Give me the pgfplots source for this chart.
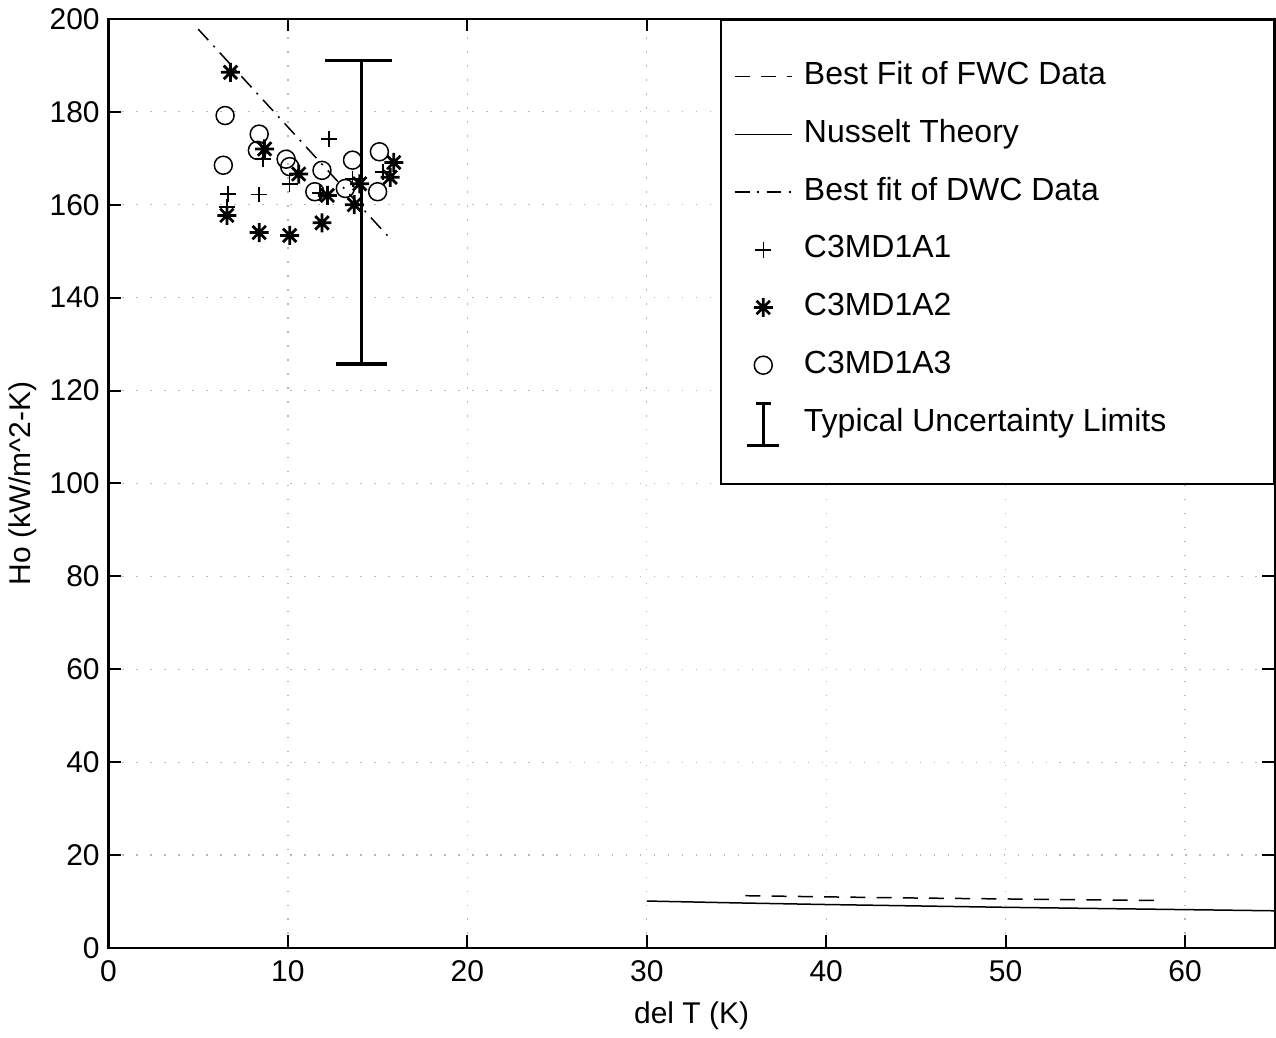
\documentclass[border=0pt]{standalone}
\usepackage{fontspec}
\setmainfont{Liberation Sans}
\usepackage{pgfplots}
\pgfplotsset{compat=1.18}
\pgfdeclareplotmark{mstar}{%
 \pgfpathmoveto{\pgfqpoint{-\pgfplotmarksize}{0pt}}\pgfpathlineto{\pgfqpoint{\pgfplotmarksize}{0pt}}%
 \pgfpathmoveto{\pgfqpoint{0pt}{-\pgfplotmarksize}}\pgfpathlineto{\pgfqpoint{0pt}{\pgfplotmarksize}}%
 \pgfpathmoveto{\pgfqpoint{-.707\pgfplotmarksize}{-.707\pgfplotmarksize}}\pgfpathlineto{\pgfqpoint{.707\pgfplotmarksize}{.707\pgfplotmarksize}}%
 \pgfpathmoveto{\pgfqpoint{-.707\pgfplotmarksize}{.707\pgfplotmarksize}}\pgfpathlineto{\pgfqpoint{.707\pgfplotmarksize}{-.707\pgfplotmarksize}}%
 \pgfusepathqstroke}
\pgfplotsset{
 lineleg/.style={legend image code/.code={\draw[##1] (0pt,0pt) -- (23pt,0pt);}},
 markleg/.style={legend image code/.code={\draw[##1] plot coordinates {(11.5pt,0pt)};}},
 errleg/.style={legend image code/.code={%
   \draw[black,line width=1pt] (11.5pt,-9pt) -- (11.5pt,8pt);
   \draw[black,line width=1pt] (8.5pt,8pt) -- (14.5pt,8pt);
   \draw[black,line width=1.2pt] (5pt,-9pt) -- (18pt,-9pt);}},
}
\begin{document}
\begin{tikzpicture}[font=\fontsize{12}{14}\selectfont]
\begin{axis}[
 scale only axis, width=467pt, height=372pt,
 xmin=0, xmax=65, ymin=0, ymax=200,
 xtick={0,10,...,60}, ytick={0,20,...,200},
 /pgf/number format/assume math mode=true,
 tick label style={font=\fontsize{12}{14}\selectfont},
 xticklabel style={yshift=-1.5pt},
 label style={font=\fontsize{12}{14}\selectfont},
 xlabel={del T (K)}, ylabel={Ho (kW/m\textasciicircum 2-K)},
 xlabel style={yshift=-1pt},
 ylabel style={yshift=-1.5pt},
 axis line style={line width=1pt},
 tick style={line width=0.8pt, black},
 major tick length=5pt,
 tick align=inside,
 grid=major,
 major grid style={gray!55, line width=0.5pt, dash pattern=on 0.6pt off 5pt},
 legend cell align=left,
 legend style={at={(1,1)}, anchor=north east, draw=black, line width=0.8pt,
   font=\fontsize{12.8}{15}\selectfont, inner xsep=5pt, inner ysep=14.5pt,
   row sep=6.6pt, column sep=2.5pt, nodes={text height=9.5pt, text depth=3pt}},
]
% FWC best fit
\addplot[black, line width=0.6pt, dash pattern=on 6pt off 4.5pt, lineleg]
 coordinates {(35.5,11.25) (40,11.0) (45,10.75) (50,10.55) (55,10.35) (58.8,10.2)};
\addlegendentry{Best Fit of FWC Data}
% Nusselt
\addplot[black, line width=0.6pt, lineleg]
 coordinates {(30,10.1) (35,9.7) (40,9.35) (45,9.05) (50,8.75) (55,8.5) (60,8.25) (65,8.0)};
\addlegendentry{Nusselt Theory}
% DWC best fit
\addplot[black, line width=0.6pt, dash pattern=on 6pt off 3pt on 0.8pt off 3pt, lineleg]
 coordinates {(5.0,197.8) (15.7,152.7)};
\addlegendentry{Best fit of DWC Data}
% C3MD1A1
\addplot[only marks, black, mark=+, mark size=3.2pt, line width=0.6pt, markleg]
 coordinates {(6.65,162.3) (8.4,162.2) (8.6,169.8) (10.1,164.5) (12.3,174.1) (13.6,165.5) (15.3,167.0) (6.6,159.5) (11.8,162.5)};
\addlegendentry{C3MD1A1}
% C3MD1A2
\addplot[only marks, black, mark=mstar, mark size=3.8pt, line width=1.1pt, markleg]
 coordinates {(6.8,188.5) (6.6,157.7) (8.4,154.0) (10.1,153.4) (11.9,156.1) (8.7,172.0) (10.6,166.6) (12.2,162.0) (13.7,160.0) (14.0,164.5) (15.7,165.9) (15.9,169.1)};
\addlegendentry{C3MD1A2}
% C3MD1A3
\addplot[only marks, black, mark=o, mark size=3.6pt, line width=0.6pt, markleg]
 coordinates {(6.5,179.2) (6.4,168.5) (8.4,175.2) (8.3,171.7) (9.9,169.8) (10.1,168.2) (11.9,167.4) (11.5,162.8) (13.6,169.6) (13.2,163.5) (15.1,171.4) (15.0,162.8)};
\addlegendentry{C3MD1A3}
% Uncertainty
\addplot[black, line width=1.1pt, mark=none, errleg]
 coordinates {(14.1,125.7) (14.1,191.0)};
\addlegendentry{Typical Uncertainty Limits\hspace*{36pt}}
\addplot[black, line width=1.3pt, forget plot] coordinates {(12.05,191.0) (15.8,191.0)};
\addplot[black, line width=1.3pt, forget plot] coordinates {(12.7,125.7) (15.5,125.7)};
\end{axis}
\end{tikzpicture}
\end{document}
